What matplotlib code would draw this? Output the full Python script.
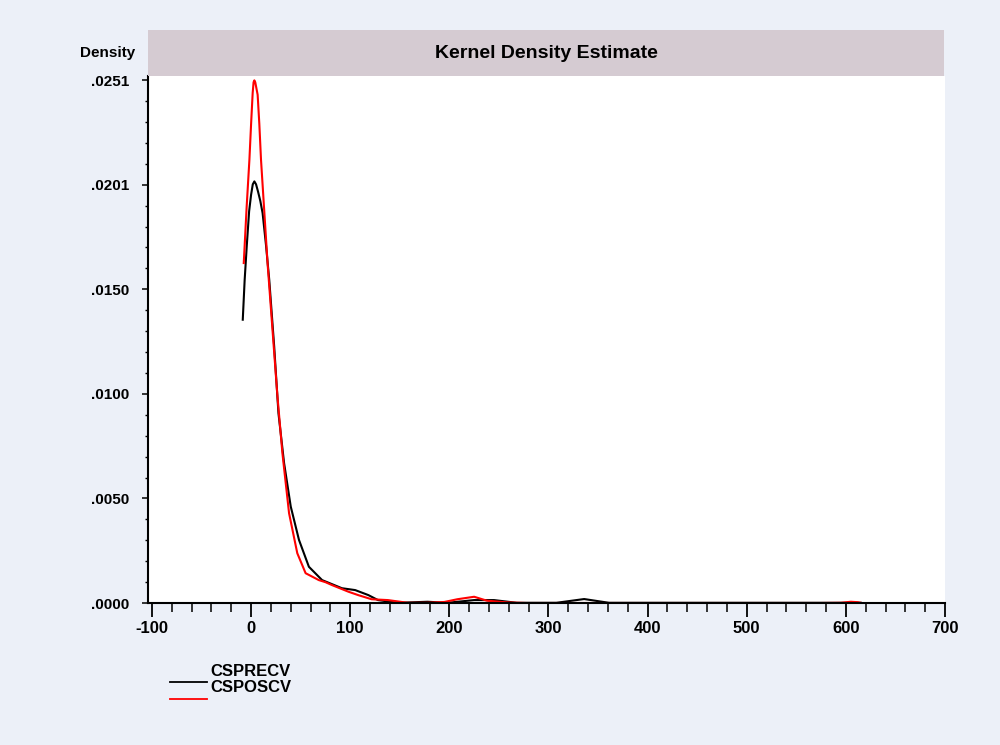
import numpy as np
import matplotlib
matplotlib.use("Agg")
import matplotlib.pyplot as plt
from matplotlib.ticker import MultipleLocator, FixedLocator
from matplotlib.lines import Line2D

plt.rcParams['font.family'] = ['Liberation Sans', 'DejaVu Sans']
plt.rcParams['axes.unicode_minus'] = False

# values
pre_x = [-8.4, -6.5, -4.4, -2.0, 0.0, 1.7, 3.3, 5.0, 7.0, 9.3, 11.6, 15.0, 18.3, 23.3,
         27.6, 33.3, 40.0, 48.3, 58.3, 71.6, 91.6, 105.0, 118.3, 128.0, 148.0,
         178.0, 198.0, 225.0, 245.0, 268.0, 308.0, 336.0, 361.0, 400.0, 500.0, 615.0]
pre_y = [0.01360, 0.01550, 0.01712, 0.01880, 0.01960, 0.02010, 0.02024, 0.02010,
         0.01975, 0.01930, 0.01872, 0.01720, 0.01552, 0.01231, 0.00911, 0.00671,
         0.00463, 0.00303, 0.00174, 0.00110, 0.00071, 0.00062, 0.00038, 0.00014,
         0.00001, 0.00006, 0.00001, 0.00014, 0.00014, 0.00001, 0.00001, 0.00019,
         0.00001, 0.00001, 0.00001, 0.00001]

pos_x = [-7.4, -4.5, -1.7, 0.0, 1.6, 2.5, 3.3, 4.2, 5.0, 6.6, 8.3, 10.0, 13.3, 16.6,
         21.6, 26.6, 31.6, 38.3, 46.6, 55.0, 68.3, 75.0, 81.6, 98.3, 108.0, 121.6,
         138.0, 158.0, 178.0, 195.0, 208.0, 225.0, 238.0, 258.0, 278.0, 448.0,
         575.0, 595.0, 605.0, 612.0, 615.0]
pos_y = [0.01632, 0.01900, 0.02128, 0.02300, 0.02449, 0.02500, 0.02509, 0.02500,
         0.02480, 0.02440, 0.02300, 0.02128, 0.01880, 0.01632, 0.01311, 0.00991,
         0.00719, 0.00431, 0.00239, 0.00143, 0.00110, 0.00100, 0.00086, 0.00054,
         0.00038, 0.00018, 0.00014, 0.00001, 0.00001, 0.00005, 0.00018, 0.00030,
         0.00011, 0.00003, 0.00000, 0.00000, 0.00000, 0.00001, 0.00006, 0.00004,
         0.00001]

series_names = ['CSPRECV', 'CSPOSCV']
ytick_vals = [0.0, 0.00502, 0.01004, 0.01506, 0.02008, 0.0251]
ytick_labels = ['.0000', '.0050', '.0100', '.0150', '.0201', '.0251']
xtick_vals = [-100, 0, 100, 200, 300, 400, 500, 600, 700]

bg = '#ECF0F8'
band = '#D5CBD2'

fig = plt.figure(figsize=(10, 7.45), dpi=100, facecolor=bg)
ax = fig.add_axes([0.148, 0.1906, 0.797, 0.7074])
ax.set_facecolor('white')

ax.plot(pre_x, pre_y, color='black', lw=1.5)
ax.plot(pos_x, pos_y, color='#FF0000', lw=1.5)

ax.set_xlim(-104, 700)
ax.set_ylim(0, 0.0253)

for s in ['top', 'right']:
    ax.spines[s].set_visible(False)
for s in ['left', 'bottom']:
    ax.spines[s].set_linewidth(1.5)
    ax.spines[s].set_color('black')

ax.xaxis.set_major_locator(FixedLocator(xtick_vals))
ax.xaxis.set_minor_locator(MultipleLocator(20))
ax.yaxis.set_major_locator(FixedLocator(ytick_vals))
ax.yaxis.set_minor_locator(MultipleLocator(0.00502 / 5))
ax.set_yticklabels(ytick_labels)

ax.tick_params(axis='x', which='major', direction='out', length=10, width=1.3, pad=3,
               labelsize=12)
ax.tick_params(axis='x', which='minor', direction='out', length=6.5, width=1.1)
ax.tick_params(axis='y', which='major', direction='out', length=4.5, width=1.1, pad=9,
               labelsize=11)
ax.tick_params(axis='y', which='minor', direction='out', length=2.3, width=1.0)
for lab in ax.get_xticklabels() + ax.get_yticklabels():
    lab.set_fontweight('bold')

# title band
tax = fig.add_axes([0.148, 0.898, 0.796, 0.0617])
tax.set_facecolor(band)
tax.set_xticks([])
tax.set_yticks([])
for s in tax.spines.values():
    s.set_visible(False)
tax.text(0.5, 0.5, 'Kernel Density Estimate', ha='center', va='center',
         fontsize=14, fontweight='bold', transform=tax.transAxes)

fig.text(0.135, 1 - 53 / 745, 'Density', ha='right', va='center',
         fontsize=11, fontweight='bold')

# legend
leg_colors = ['black', '#FF0000']
leg_line_y = [682, 699]
leg_text_y = [671, 688]
for name, col, ly, ty in zip(series_names, leg_colors, leg_line_y, leg_text_y):
    fig.add_artist(Line2D([0.170, 0.207], [1 - ly / 745, 1 - ly / 745],
                          color=col, lw=1.3, transform=fig.transFigure))
    fig.text(0.210, 1 - ty / 745, name, ha='left', va='center',
             fontsize=12, fontweight='bold')

fig.savefig('out.png', dpi=100, facecolor=bg)
